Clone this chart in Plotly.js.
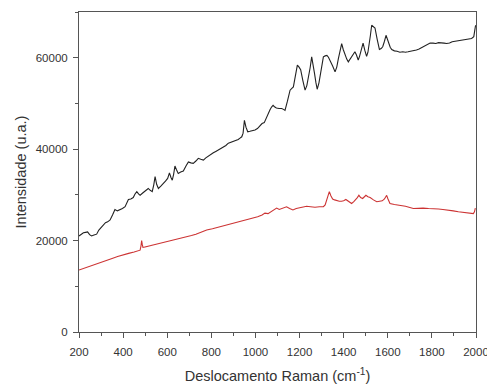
<!DOCTYPE html>
<html>
<head>
<meta charset="utf-8">
<script src="https://cdn.plot.ly/plotly-3.0.1.min.js"></script>
<style>html,body{margin:0;padding:0;background:#fff;}#chart{width:487px;height:387px;}</style>
</head>
<body>
<div id="chart"></div>
<script>
// Black spectrum (upper)
var blackX = [200,210,220,230,239,248,257,268,280,290,300,310,320,330,341,352,363,374,386,397,409,417,424,435,446,454,462,470,477,486,495,505,514,523,532,539,545,552,560,571,582,592,602,610,617,623,629,635,642,650,661,673,685,696,707,718,730,741,752,764,775,786,797,809,820,832,843,854,866,877,888,900,911,922,930,938,944,950,957,965,975,987,998,1009,1020,1030,1040,1051,1058,1066,1073,1080,1088,1095,1107,1119,1127,1134,1145,1157,1165,1172,1178,1182,1186,1190,1197,1205,1215,1225,1233,1240,1248,1255,1262,1268,1274,1280,1288,1295,1302,1308,1316,1324,1331,1338,1350,1361,1369,1376,1384,1391,1398,1406,1414,1421,1428,1436,1444,1451,1458,1466,1472,1478,1483,1488,1496,1504,1510,1515,1521,1527,1534,1542,1552,1562,1570,1577,1585,1592,1598,1605,1611,1618,1630,1642,1655,1668,1680,1692,1705,1718,1730,1742,1755,1768,1780,1792,1805,1818,1830,1842,1855,1867,1880,1892,1905,1917,1930,1942,1955,1967,1980,1990,1995,1998];
var blackY = [21000,21300,21700,21800,21900,21300,21000,21200,21400,22300,22800,23400,23900,24100,24500,25600,26800,26500,26700,27000,27400,28200,29000,29100,29400,30200,30700,30200,29900,30300,30600,31100,31400,31000,30700,32200,34000,32300,31400,31900,32400,33000,33600,34800,33800,33200,34500,36300,35500,34700,35000,35200,36300,37200,37000,36900,37400,38000,37800,37600,38100,38500,38800,39200,39500,39800,40200,40500,40800,41300,41500,41600,41900,42100,42400,42700,43500,46300,44800,43800,43900,44000,44200,44500,45200,45600,45800,47100,48000,48600,49200,49600,49200,49000,48900,48900,48700,48500,50500,52900,53300,53600,55200,56600,58000,58400,58000,57400,55000,52900,53900,55500,57800,60200,58500,56500,54600,53100,54500,56800,58900,60200,60400,60500,60100,59500,58200,56900,58000,59800,61500,63100,61800,60500,59700,59100,59600,60300,61000,61300,60600,59500,60300,61500,62600,63200,61600,60300,61200,62500,64800,67100,66900,66500,64000,61800,62000,62400,63600,64900,64100,62800,62300,61800,61500,61400,61200,61300,61200,61300,61400,61500,61700,61900,62200,62600,62900,63200,63200,63100,63300,63300,63200,63100,63200,63500,63600,63700,63800,63800,63900,64100,64200,64600,66000,67100];
// Red spectrum (lower)
var redX = [200,225,250,275,300,325,350,375,400,425,450,465,477,481,484,487,490,499,525,550,575,597,620,640,665,688,710,730,755,779,805,830,865,898,930,955,975,995,1010,1030,1043,1057,1070,1083,1096,1108,1120,1130,1141,1155,1170,1185,1200,1215,1232,1250,1270,1290,1308,1316,1322,1328,1335,1342,1350,1359,1368,1380,1390,1400,1410,1423,1436,1446,1455,1462,1469,1477,1486,1494,1501,1510,1520,1535,1550,1563,1575,1585,1590,1595,1600,1610,1630,1650,1680,1716,1740,1760,1785,1806,1830,1850,1875,1897,1920,1940,1965,1988,1993,1997];
var redY = [13550,14000,14400,14800,15300,15700,16100,16500,16900,17200,17500,17700,17900,18800,20000,19100,18500,18600,18900,19200,19400,19700,20000,20300,20500,20800,21100,21400,21900,22300,22600,22900,23300,23800,24100,24400,24700,24900,25200,25600,26000,25900,26300,26800,27100,26800,27000,27300,27400,27000,26700,27000,27200,27400,27500,27400,27300,27400,27400,27800,28600,29800,30700,29800,29100,28900,28700,28600,28600,28700,29000,28500,28100,28500,28900,29400,29900,29400,29200,29500,29900,29600,29400,28900,28500,28600,28700,29100,29600,29900,29200,28100,27900,27800,27500,27000,27100,27100,27000,27000,26900,26800,26700,26500,26300,26200,26100,25900,26300,27100];

var fontFam = 'Liberation Sans, Arial, sans-serif';
var axisCommon = {
  showgrid: false,
  zeroline: false,
  showline: true,
  linecolor: '#555',
  linewidth: 1,
  mirror: true,
  ticks: 'outside',
  ticklen: 5,
  tickwidth: 1,
  tickcolor: '#555',
  tickformat: 'd',
  ticklabeloverflow: 'allow',
  tickfont: {family: fontFam, size: 11.5, color: '#333'}
};

var layout = {
  width: 487,
  height: 387,
  margin: {l: 79, r: 11, t: 12, b: 55},
  paper_bgcolor: '#fff',
  plot_bgcolor: '#fff',
  showlegend: false,
  xaxis: Object.assign({}, axisCommon, {
    range: [200, 2000],
    tick0: 200,
    dtick: 200,
    ticklabelstandoff: 4,
    minor: {dtick: 100, ticks: 'outside', ticklen: 3, tickcolor: '#555'},
    title: {text: 'Deslocamento Raman (cm<sup>-1</sup>)', font: {family: fontFam, size: 14.5, color: '#333'}, standoff: 14}
  }),
  yaxis: Object.assign({}, axisCommon, {
    range: [0, 70000],
    tick0: 0,
    dtick: 20000,
    ticklabelstandoff: 3,
    minor: {dtick: 10000, ticks: 'outside', ticklen: 3, tickcolor: '#555'},
    title: {text: 'Intensidade (u.a.)', font: {family: fontFam, size: 14.5, color: '#333'}, standoff: 5}
  })
};

var traces = [
  {x: blackX, y: blackY, type: 'scatter', mode: 'lines', line: {color: '#222', width: 1.1}},
  {x: redX, y: redY, type: 'scatter', mode: 'lines', line: {color: '#cc3333', width: 1.1}}
];

Plotly.newPlot('chart', traces, layout, {displayModeBar: false, staticPlot: true});
</script>
</body>
</html>
